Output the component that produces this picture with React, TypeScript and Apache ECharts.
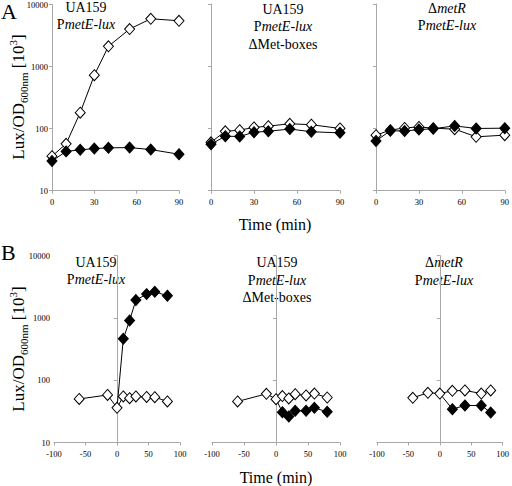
import React, { useEffect, useRef } from "react";
import * as echarts from "echarts";

// ---- data ----
const topX = [0, 10, 20, 30, 40, 55, 70, 90];
const a1Open = [36, 57, 181, 726, 2120, 4020, 5890, 5470];
const a1Filled = [30, 43, 45.5, 47.7, 49, 49.5, 46, 38.7];
const a2Open = [60, 90, 94, 104, 109, 119, 115, 100];
const a2Filled = [56, 75, 74.5, 87, 90, 98, 88.5, 85];
const a3Open = [78, 94, 102, 106, 101, 97.5, 73.5, 78];
const a3Filled = [63, 92, 91, 96, 99, 110, 100, 101];

const b1OpenX = [-60, -15, 0, 10, 20, 30, 47, 60, 80];
const b1Open = [50, 58, 36, 55, 51.5, 55, 54, 53.5, 45.6];
const b1FilledX = [0, 10, 20, 30, 47, 60, 80];
const b1Filled = [36, 463, 912, 1937, 2415, 2634, 2276];

const b2OpenX = [-60, -15, 0, 10, 20, 30, 47, 60, 80];
const b2Open = [45.6, 60.5, 49.7, 55.6, 51, 59.8, 57, 61, 52.8];
const b2FilledX = [0, 10, 20, 30, 47, 60, 80];
const b2Filled = [49.7, 30.7, 26.2, 32.3, 32.3, 36, 31.1];

const b3OpenX = [-43, -19, 0, 20, 40, 66, 81];
const b3Open = [52.3, 62.8, 61.2, 67.6, 68.5, 61.2, 68.5];
const b3FilledX = [0, 20, 40, 66, 81];
const b3Filled = [61.2, 34.3, 39.3, 39.3, 30.3];

const topTicks = { min: 0, max: 90, interval: 30 };
const bottomTicks = { min: -100, max: 100, interval: 50 };
const yRange = { min: 10, max: 10000 };

const ff = "Liberation Serif";

function pairs(xs: number[], ys: number[], hideFirst = false) {
  return xs.map((x, i) =>
    hideFirst && i === 0 ? { value: [x, ys[i]], symbol: "none" } : [x, ys[i]]
  );
}

export default function App() {
  const ref = useRef<HTMLDivElement>(null);
  useEffect(() => {
    if (!ref.current) return;
    const chart = echarts.init(ref.current, null, { renderer: "svg" });

    const grids = [
      { left: 52, top: 4, width: 127, height: 186.7 },
      { left: 211, top: 4, width: 129, height: 186.7 },
      { left: 376, top: 4, width: 130, height: 186.7 },
      { left: 54, top: 255.7, width: 126, height: 186.8 },
      { left: 212, top: 255.7, width: 128, height: 186.8 },
      { left: 377, top: 255.7, width: 129, height: 186.8 },
    ];
    const axisLine = { lineStyle: { color: "#a8a8a8", width: 1 } };
    const axisTick = { show: true, length: 3, lineStyle: { color: "#a8a8a8" } };
    const xAxis = grids.map((_, i) => {
      const t = i < 3 ? topTicks : bottomTicks;
      return {
        type: "value",
        gridIndex: i,
        min: t.min,
        max: t.max,
        interval: t.interval,
        axisLine: { show: true, ...axisLine },
        axisTick,
        splitLine: { show: false },
        axisLabel: { color: "#000", fontFamily: ff, fontSize: 8.5, margin: 7 },
      };
    });
    const yAxis = grids.map((_, i) => ({
      type: "log",
      logBase: 10,
      gridIndex: i,
      min: yRange.min,
      max: yRange.max,
      axisLine: { show: true, ...axisLine },
      axisTick,
      splitLine: { show: false },
      minorTick: { show: false },
      axisLabel: {
        show: i === 0 || i === 3,
        color: "#000",
        fontFamily: ff,
        fontSize: 8.5,
        margin: 4,
        formatter: (v: number) => String(Math.round(v)),
      },
    }));

    const openStyle = {
      symbol: "diamond",
      symbolSize: [10, 11],
      lineStyle: { color: "#000", width: 1 },
      itemStyle: { color: "#fff", borderColor: "#000", borderWidth: 1 },
    };
    const filledStyle = {
      symbol: "diamond",
      symbolSize: [10, 11],
      lineStyle: { color: "#000", width: 1 },
      itemStyle: { color: "#000", borderColor: "#000", borderWidth: 1 },
    };
    const mk = (idx: number, style: any, data: any[]) => ({
      type: "line",
      xAxisIndex: idx,
      yAxisIndex: idx,
      data,
      ...style,
      emphasis: { disabled: true },
      silent: true,
    });

    const series = [
      mk(0, openStyle, pairs(topX, a1Open)),
      mk(0, filledStyle, pairs(topX, a1Filled)),
      mk(1, openStyle, pairs(topX, a2Open)),
      mk(1, filledStyle, pairs(topX, a2Filled)),
      mk(2, openStyle, pairs(topX, a3Open)),
      mk(2, filledStyle, pairs(topX, a3Filled)),
      mk(3, filledStyle, pairs(b1FilledX, b1Filled, true)),
      mk(3, openStyle, pairs(b1OpenX, b1Open)),
      mk(4, filledStyle, pairs(b2FilledX, b2Filled, true)),
      mk(4, openStyle, pairs(b2OpenX, b2Open)),
      mk(5, filledStyle, pairs(b3FilledX, b3Filled, true)),
      mk(5, openStyle, pairs(b3OpenX, b3Open)),
    ];

    const rich = {
      n: { font: "14px Liberation Serif", lineHeight: 17.5, fill: "#000" },
      i: { font: "italic 14px Liberation Serif", lineHeight: 17.5, fill: "#000" },
    };
    const title = (x: number, y: number, text: string) => ({
      type: "text",
      x,
      y,
      silent: true,
      style: {
        text,
        align: "center",
        verticalAlign: "middle",
        rich,
        fill: "#000",
        font: "14px Liberation Serif",
      },
    });
    const lbl = {
      m: { fontFamily: ff, fontSize: 17, lineHeight: 22, verticalAlign: "middle", fill: "#000" },
      s: { fontFamily: ff, fontSize: 11, lineHeight: 11, verticalAlign: "bottom", fill: "#000" },
      p: { fontFamily: ff, fontSize: 11, lineHeight: 11, verticalAlign: "top", fill: "#000" },
    };
    const yName = (y: number) => ({
      type: "text",
      x: 18,
      y,
      rotation: Math.PI / 2,
      silent: true,
      style: {
        text: "{m|Lux/OD}{s|600nm}{m| [10}{p|3}{m|]}",
        rich: lbl,
        align: "center",
        verticalAlign: "middle",
        fill: "#000",
        fontFamily: ff,
        fontSize: 17,
      },
    });
    const plain = (x: number, y: number, text: string, size: number, align = "center") => ({
      type: "text",
      x,
      y,
      silent: true,
      style: {
        text,
        align,
        verticalAlign: "middle",
        fill: "#000",
        fontFamily: ff,
        fontSize: size,
      },
    });

    const graphic = [
      plain(1, 11, "A", 22, "left"),
      plain(1, 252, "B", 22, "left"),
      yName(97),
      yName(349),
      plain(275, 224, "Time (min)", 16),
      plain(276, 477, "Time (min)", 16),
      title(86, 16.2, "{n|UA159}\n{n|P}{i|metE-lux}"),
      title(283, 26.7, "{n|UA159}\n{n|P}{i|metE-lux}\n{n|ΔMet-boxes}"),
      title(447, 16.8, "{n|Δ}{i|metR}\n{n|P}{i|metE-lux}"),
      title(96, 271, "{n|UA159}\n{n|P}{i|metE-lux}"),
      title(277, 280, "{n|UA159}\n{n|P}{i|metE-lux}\n{n|ΔMet-boxes}"),
      title(444, 271.5, "{n|Δ}{i|metR}\n{n|P}{i|metE-lux}"),
    ];

    chart.setOption({
      animation: false,
      backgroundColor: "#fff",
      textStyle: { fontFamily: ff },
      grid: grids,
      xAxis,
      yAxis,
      series,
      graphic,
    } as any);
    return () => chart.dispose();
  }, []);
  return (
    <div
      ref={ref}
      style={{ position: "fixed", left: 0, top: 0, width: 512, height: 486, background: "#fff" }}
    />
  );
}
